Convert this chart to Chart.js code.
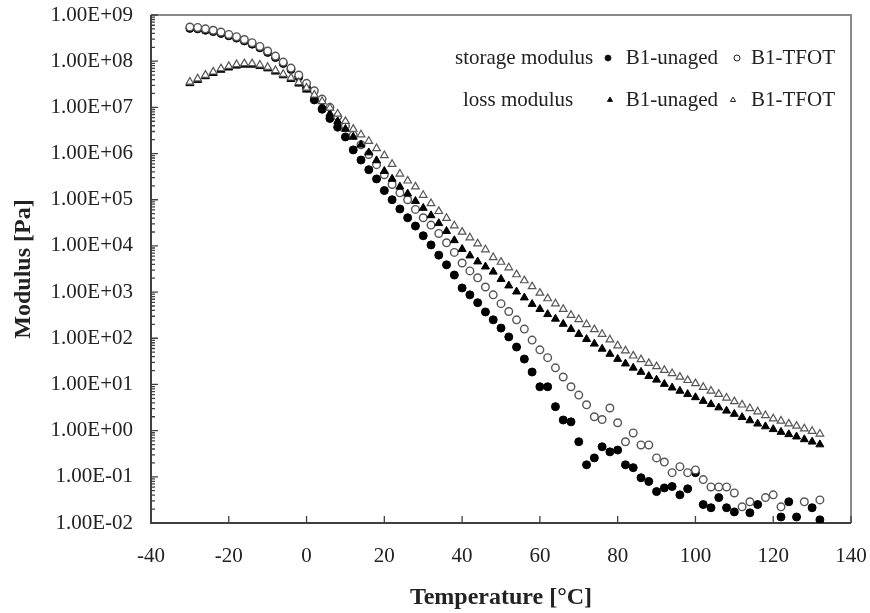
<!DOCTYPE html>
<html>
<head>
<meta charset="utf-8">
<script src="https://cdn.jsdelivr.net/npm/chart.js@4.4.0/dist/chart.umd.min.js"></script>
<style>
    body { margin: 0; background: #fff; }
    #wrap { width: 870px; height: 613px; }
</style>
</head>
<body>
<div id="wrap"><canvas id="myChart"></canvas></div>
<script>
// Temperature [°C]
const temperature = [
    -30, -28, -26, -24, -22, -20, -18, -16, -14, -12, -10, -8, -6, -4, -2,
    0, 2, 4, 6, 8, 10, 12, 14, 16, 18, 20, 22, 24, 26, 28, 30, 32, 34, 36, 38,
    40, 42, 44, 46, 48, 50, 52, 54, 56, 58, 60, 62, 64, 66, 68, 70, 72, 74, 76, 78,
    80, 82, 84, 86, 88, 90, 92, 94, 96, 98, 100, 102, 104, 106, 108, 110, 112, 114, 116, 118,
    120, 122, 124, 126, 128, 130, 132
];

// storage modulus, B1-unaged [Pa] (null = below the axis)
const storageUnaged = [
    5.13e8, 5.01e8, 4.68e8, 4.37e8, 3.98e8, 3.55e8, 3.16e8, 2.75e8, 2.34e8, 1.95e8, 1.55e8, 1.2e8, 8.91e7, 6.61e7, 4.57e7,
    2.63e7, 1.45e7, 9.12e6, 5.75e6, 3.72e6, 2.29e6, 1.2e6, 7.24e5, 4.47e5, 2.82e5, 1.58e5, 1.0e5, 6.31e4, 4.07e4, 2.69e4, 1.66e4, 1.05e4, 6.31e3, 3.89e3, 2.34e3,
    1.23e3, 871, 589, 372, 251, 166, 107, 64.6, 35.5, 18.6, 8.91, 8.91, 3.31, 1.70, 1.55, 0.575, 0.182, 0.257, 0.447, 0.347,
    0.38, 0.182, 0.158, 0.0955, 0.0794, 0.0479, 0.0575, 0.0617, 0.0407, 0.055, 0.123, 0.0251, 0.0214, 0.0355, 0.0214, 0.0174, null, 0.0166, 0.0251, null,
    null, 0.0135, 0.0288, 0.0135, null, 0.0214, 0.0117
];

// storage modulus, B1-TFOT [Pa]
const storageTfot = [
    5.5e8, 5.37e8, 5.01e8, 4.68e8, 4.27e8, 3.8e8, 3.39e8, 2.95e8, 2.51e8, 2.09e8, 1.66e8, 1.29e8, 9.55e7, 7.08e7, 5.01e7,
    3.31e7, 2.29e7, 1.51e7, 1.0e7, 6.31e6, 3.98e6, 2.51e6, 1.55e6, 9.55e5, 5.75e5, 3.47e5, 2.14e5, 1.41e5, 1.0e5, 6.17e4, 4.07e4, 2.82e4, 1.86e4, 1.17e4, 7.24e3,
    4.27e3, 2.88e3, 2.04e3, 1.29e3, 871, 562, 380, 251, 158, 91.2, 56.2, 38.0, 22.9, 14.5, 8.91, 5.89, 3.63, 2.0, 1.74, 3.09,
    1.48, 0.575, 0.891, 0.49, 0.49, 0.257, 0.209, 0.123, 0.166, 0.123, 0.141, 0.0871, 0.0603, 0.0603, 0.0603, 0.0447, 0.0224, 0.0288, null, 0.0355,
    0.0407, 0.0224, null, null, 0.0288, null, 0.0316
];

// loss modulus, B1-unaged [Pa]
const lossUnaged = [
    3.31e7, 3.89e7, 4.68e7, 5.5e7, 6.46e7, 7.24e7, 7.94e7, 8.32e7, 8.32e7, 7.76e7, 6.92e7, 5.89e7, 4.9e7, 4.07e7, 3.24e7,
    2.4e7, 1.58e7, 1.07e7, 7.24e6, 5.01e6, 3.39e6, 2.29e6, 1.55e6, 1.05e6, 7.08e5, 4.17e5, 2.82e5, 1.91e5, 1.35e5, 9.33e4, 6.61e4, 4.57e4, 3.09e4, 2.09e4, 1.32e4,
    8.51e3, 6.17e3, 4.57e3, 3.55e3, 2.75e3, 1.91e3, 1.38e3, 1.02e3, 759, 550, 427, 331, 263, 204, 158, 123, 95.5, 75.9, 58.9, 45.7,
    35.5, 28.2, 22.9, 18.6, 15.1, 12.6, 10.2, 8.51, 7.24, 6.17, 5.25, 4.37, 3.72, 3.16, 2.69, 2.29, 1.95, 1.66, 1.41, 1.23,
    1.07, 0.933, 0.832, 0.741, 0.646, 0.575, 0.501
];

// loss modulus, B1-TFOT [Pa]
const lossTfot = [
    3.55e7, 4.17e7, 5.01e7, 5.89e7, 6.92e7, 7.76e7, 8.51e7, 8.91e7, 8.91e7, 8.32e7, 7.41e7, 6.31e7, 5.25e7, 4.37e7, 3.47e7,
    2.63e7, 1.86e7, 1.35e7, 9.77e6, 7.24e6, 5.01e6, 3.39e6, 2.57e6, 1.86e6, 1.29e6, 9.12e5, 5.89e5, 3.63e5, 2.57e5, 1.91e5, 1.26e5, 8.32e4, 5.62e4, 3.98e4, 2.75e4,
    2.0e4, 1.51e4, 1.12e4, 8.32e3, 5.62e3, 4.47e3, 3.39e3, 2.4e3, 1.78e3, 1.32e3, 955, 724, 562, 427, 316, 257, 200, 155, 123, 93.3,
    69.2, 53.7, 41.7, 34.7, 28.8, 24.5, 20.4, 17.4, 14.5, 12.3, 10.5, 8.71, 7.24, 6.17, 5.13, 4.27, 3.63, 3.02, 2.57, 2.14,
    1.82, 1.62, 1.41, 1.26, 1.10, 0.977, 0.851
];

// axis ticks
const xTicks = [-40, -20, 0, 20, 40, 60, 80, 100, 120, 140];
const yTicks = [1e-2, 1e-1, 1e0, 1e1, 1e2, 1e3, 1e4, 1e5, 1e6, 1e7, 1e8, 1e9];
const yTickLabels = ['1.00E-02', '1.00E-01', '1.00E+00', '1.00E+01', '1.00E+02', '1.00E+03',
    '1.00E+04', '1.00E+05', '1.00E+06', '1.00E+07', '1.00E+08', '1.00E+09'];

const serif = "'Liberation Serif', 'Times New Roman', serif";
const toPoints = arr => temperature.map((t, i) => ({ x: t, y: arr[i] }));

// box, inner tick marks and the text legend
const framePlugin = {
    id: 'frame',
    beforeDatasetsDraw(chart) {
        const { ctx, chartArea: a, scales: { x, y } } = chart;
        ctx.save();
        ctx.lineWidth = 2;
        ctx.strokeStyle = '#8a8a8a';
        ctx.beginPath();
        ctx.moveTo(a.left, a.top);
        ctx.lineTo(a.right, a.top);
        ctx.lineTo(a.right, a.bottom);
        ctx.stroke();
        ctx.strokeStyle = '#404040';
        ctx.beginPath();
        ctx.moveTo(a.left, a.top);
        ctx.lineTo(a.left, a.bottom);
        ctx.lineTo(a.right, a.bottom);
        ctx.stroke();

        ctx.lineWidth = 1.3;
        ctx.beginPath();
        xTicks.forEach(v => {
            const px = x.getPixelForValue(v);
            ctx.moveTo(px, a.bottom);
            ctx.lineTo(px, a.bottom - 7);
        });
        yTicks.forEach((v, i) => {
            const py = y.getPixelForValue(v);
            ctx.moveTo(a.left, py);
            ctx.lineTo(a.left + 7, py);
            if (i < yTicks.length - 1) {
                for (let m = 2; m <= 9; m++) {
                    const pm = y.getPixelForValue(v * m);
                    ctx.moveTo(a.left, pm);
                    ctx.lineTo(a.left + 4, pm);
                }
            }
        });
        ctx.stroke();
        ctx.restore();
    },
    afterDraw(chart) {
        const ctx = chart.ctx;
        ctx.save();
        ctx.font = '21px ' + serif;
        ctx.fillStyle = '#222';
        ctx.textBaseline = 'middle';

        const rows = [
            { y: 58, name: 'storage modulus', nameX: 455, marks: ['circle', 'circle'], fills: ['#000', '#fff'], mx: [608, 737] },
            { y: 100, name: 'loss modulus', nameX: 463, marks: ['triangle', 'triangle'], fills: ['#000', '#fff'], mx: [610, 733] }
        ];
        rows.forEach(r => {
            ctx.textAlign = 'left';
            ctx.fillText(r.name, r.nameX, r.y);
            ctx.textAlign = 'right';
            ctx.fillText('B1-unaged', 718, r.y);
            ctx.fillText('B1-TFOT', 835, r.y);
            r.marks.forEach((style, k) => {
                ctx.fillStyle = r.fills[k];
                ctx.strokeStyle = '#222';
                ctx.lineWidth = 1;
                Chart.helpers.drawPoint(ctx, { pointStyle: style, radius: 3, borderWidth: 1, rotation: 0 }, r.mx[k], r.y);
                ctx.fillStyle = '#222';
            });
        });
        ctx.restore();
    }
};

const ctx = document.getElementById('myChart').getContext('2d');
const myChart = new Chart(ctx, {
    type: 'scatter',
    data: {
        datasets: [
            {
                label: 'storage modulus B1-unaged',
                data: toPoints(storageUnaged),
                pointStyle: 'circle', pointRadius: 4,
                backgroundColor: '#000', borderColor: '#000', borderWidth: 1,
                order: 4
            },
            {
                label: 'storage modulus B1-TFOT',
                data: toPoints(storageTfot),
                pointStyle: 'circle', pointRadius: 3.8,
                backgroundColor: '#fff', borderColor: '#555', borderWidth: 1.4,
                order: 3
            },
            {
                label: 'loss modulus B1-unaged',
                data: toPoints(lossUnaged),
                pointStyle: 'triangle', pointRadius: 4.6,
                backgroundColor: '#000', borderColor: '#000', borderWidth: 1,
                order: 2
            },
            {
                label: 'loss modulus B1-TFOT',
                data: toPoints(lossTfot),
                pointStyle: 'triangle', pointRadius: 4.4,
                backgroundColor: '#fff', borderColor: '#555', borderWidth: 1.2,
                order: 1
            }
        ]
    },
    options: {
        responsive: true,
        maintainAspectRatio: false,
        animation: false,
        layout: { padding: { top: 15, right: 19, left: 0, bottom: 0 } },
        plugins: { legend: { display: false }, tooltip: { enabled: false } },
        scales: {
            x: {
                type: 'linear', min: -40, max: 140,
                afterBuildTicks: scale => { scale.ticks = xTicks.map(v => ({ value: v })); },
                afterFit: scale => {
                    scale.height = 90;
                    scale.paddingLeft = 0;
                    scale.paddingRight = 0;
                },
                grid: { display: false, drawTicks: false },
                border: { display: false },
                ticks: { color: '#222', padding: 21, font: { family: serif, size: 21 } },
                title: {
                    display: true, text: 'Temperature [°C]', color: '#222',
                    font: { family: serif, size: 24, weight: 'bold' },
                    padding: { top: 0, bottom: 1 }
                }
            },
            y: {
                type: 'logarithmic', min: 1e-2, max: 1e9,
                afterBuildTicks: scale => { scale.ticks = yTicks.map(v => ({ value: v })); },
                afterFit: scale => {
                    scale.width = 151;
                    scale.paddingTop = 0;
                    scale.paddingBottom = 0;
                },
                grid: { display: false, drawTicks: false },
                border: { display: false },
                ticks: {
                    color: '#222', padding: 18, font: { family: serif, size: 21 },
                    callback: val => yTickLabels[yTicks.indexOf(val)]
                },
                title: {
                    display: true, text: 'Modulus [Pa]', color: '#222',
                    font: { family: serif, size: 24, weight: 'bold' },
                    padding: { top: 9, bottom: 0 }
                }
            }
        }
    },
    plugins: [framePlugin]
});
</script>
</body>
</html>
